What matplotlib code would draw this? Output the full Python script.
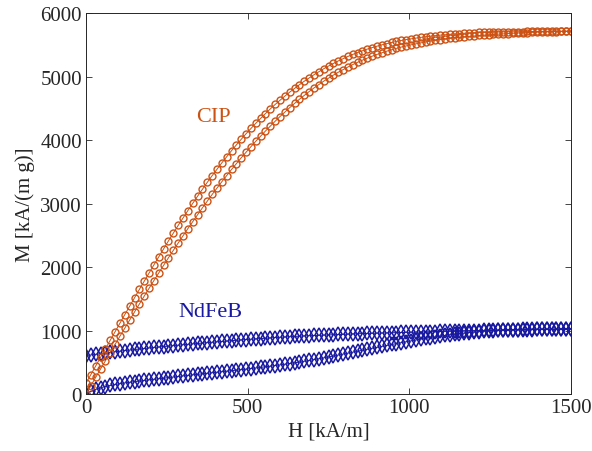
import numpy as np
import matplotlib
matplotlib.use("Agg")
import matplotlib.pyplot as plt

# field sweep, kA/m (same grid for both branches)
H = np.linspace(0, 1500, 101)

# CIP: ascending branch, then descending branch (listed at increasing H)
cip_up = [0, 132, 263, 394, 524, 653, 782, 911, 1039, 1166, 1292, 1418, 1542, 1665, 1787,
          1907, 2027, 2146, 2263, 2378, 2492, 2605, 2715, 2824, 2932, 3038, 3142, 3243, 3343,
          3440, 3536, 3629, 3720, 3808, 3895, 3980, 4062, 4142, 4220, 4296, 4370, 4441, 4510,
          4577, 4642, 4703, 4763, 4820, 4874, 4926, 4975, 5022, 5067, 5109, 5150, 5188, 5224,
          5258, 5290, 5320, 5348, 5374, 5399, 5422, 5444, 5464, 5482, 5499, 5515, 5530, 5544,
          5557, 5569, 5580, 5590, 5600, 5609, 5617, 5625, 5632, 5639, 5646, 5652, 5657, 5663,
          5668, 5672, 5677, 5681, 5685, 5688, 5692, 5695, 5698, 5700, 5703, 5705, 5708, 5710,
          5712, 5714]
cip_down = [170, 306, 442, 578, 713, 848, 983, 1117, 1251, 1384, 1516, 1647, 1777, 1906, 2034,
            2161, 2287, 2412, 2534, 2655, 2773, 2889, 3003, 3115, 3225, 3333, 3438, 3540, 3640,
            3737, 3832, 3923, 4012, 4099, 4182, 4263, 4341, 4417, 4490, 4560, 4627, 4692, 4754,
            4813, 4871, 4926, 4978, 5028, 5076, 5122, 5165, 5206, 5245, 5281, 5316, 5348, 5378,
            5406, 5432, 5456, 5478, 5499, 5518, 5536, 5553, 5568, 5582, 5594, 5605, 5616, 5626,
            5635, 5644, 5651, 5658, 5665, 5671, 5676, 5681, 5686, 5690, 5694, 5696, 5698, 5700,
            5702, 5704, 5705, 5706, 5707, 5708, 5709, 5710, 5710, 5711, 5712, 5713, 5713, 5714,
            5714, 5714]

# NdFeB
ndfeb_up = [0, 40, 72, 98, 118, 135, 150, 163, 175, 185, 195, 205, 214, 223, 232, 241, 250,
            259, 268, 276, 285, 293, 302, 310, 318, 327, 335, 343, 351, 359, 367, 376, 384, 392,
            401, 410, 419, 428, 438, 448, 458, 469, 480, 491, 503, 515, 528, 541, 555, 569, 583,
            598, 613, 628, 643, 658, 674, 689, 705, 720, 735, 750, 765, 780, 795, 809, 823, 837,
            851, 864, 877, 889, 901, 912, 923, 933, 943, 952, 960, 968, 975, 982, 988, 993, 998,
            1002, 1006, 1009, 1012, 1014, 1016, 1018, 1019, 1020, 1021, 1022, 1023, 1024, 1024,
            1025, 1025]
ndfeb_down = [605, 615, 626, 636, 646, 655, 665, 675, 684, 692, 701, 709, 717, 725, 733, 740,
              748, 755, 762, 769, 776, 783, 789, 796, 802, 809, 815, 822, 828, 834, 840, 846,
              852, 858, 864, 869, 874, 879, 884, 889, 894, 898, 903, 907, 911, 915, 919, 922,
              926, 929, 932, 935, 938, 941, 944, 947, 949, 952, 954, 957, 959, 961, 964, 966,
              968, 970, 972, 974, 976, 978, 980, 982, 984, 986, 988, 990, 992, 993, 995, 997,
              998, 1000, 1001, 1003, 1004, 1006, 1007, 1008, 1010, 1011, 1012, 1013, 1014, 1016,
              1017, 1018, 1019, 1020, 1022, 1023, 1025]

cip_color = '#CC5214'
ndfeb_color = '#1818A0'

plt.rcParams['font.family'] = ['Liberation Serif', 'DejaVu Serif']

fig = plt.figure(figsize=(5.92, 4.52), dpi=100)
ax = fig.add_axes([0.1453, 0.1261, 0.8193, 0.8429])


def loop(up, down):
    # ascending sweep followed by the return sweep
    x = np.concatenate([H, H[::-1]])
    y = np.concatenate([np.asarray(up), np.asarray(down)[::-1]])
    return x, y


x, y = loop(ndfeb_up, ndfeb_down)
ax.plot(x, y, '-d', color=ndfeb_color, lw=0.7, ms=6.8, mfc='none', mew=1.1)
x, y = loop(cip_up, cip_down)
ax.plot(x, y, '-o', color=cip_color, lw=0.7, ms=5.0, mfc='none', mew=1.0)

ax.text(393, 4376, 'CIP', color=cip_color, fontsize=16, ha='center', va='center')
ax.text(384, 1295, 'NdFeB', color=ndfeb_color, fontsize=16, ha='center', va='center')

ax.set_xlim(0, 1500)
ax.set_ylim(0, 6000)
ax.set_xticks([0, 500, 1000, 1500])
ax.set_yticks(range(0, 6001, 1000))
ax.set_xlabel('H [kA/m]', fontsize=15, color='#262626', labelpad=3)
ax.set_ylabel('M [kA/(m g)]', fontsize=15, color='#262626', labelpad=4)

ax.tick_params(direction='in', top=True, right=True, length=4, width=0.6,
               labelsize=15, colors='#262626', pad=3)
for s in ax.spines.values():
    s.set_color('#262626')
    s.set_linewidth(0.7)

fig.savefig('out.png', dpi=100)
